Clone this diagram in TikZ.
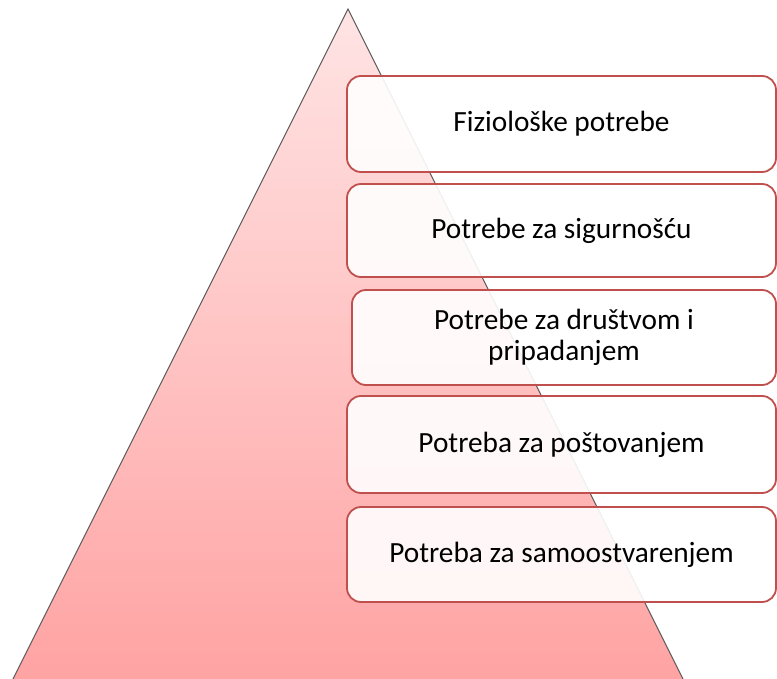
\documentclass[tikz,border=0pt]{standalone}
\usepackage{fontspec}
\setmainfont{Carlito}
\definecolor{boxred}{HTML}{C0504D}
\definecolor{pinktop}{HTML}{FFE4E4}
\definecolor{pinkbot}{HTML}{FFA3A3}
\definecolor{edgegray}{HTML}{5A5A5A}
\tikzset{
  levelbox/.style={draw=boxred, line width=1.8pt, rounded corners=14pt,
    fill=white, fill opacity=0.9, text opacity=1, align=center,
    inner sep=0pt, font=\fontsize{29.3}{31}\selectfont},
}
\begin{document}
\begin{tikzpicture}[x=1pt,y=-1pt]
\useasboundingbox (0,0) rectangle (777,679);
\begin{scope}
\clip (0,0) rectangle (777,679);
\shade[top color=pinktop, bottom color=pinkbot] (13,679) -- (348,9) -- (683,679) -- cycle;
\draw[edgegray, line width=1pt, line join=miter] (12,681) -- (348,9) -- (684,681);
% boxes
\node[levelbox, minimum width=429pt, minimum height=96pt] (b1) at (561.5,124) {Fiziološke potrebe};
\node[levelbox, minimum width=429pt, minimum height=93pt] (b2) at (561.5,230.5) {Potrebe za sigurnošću};
\node[levelbox, minimum width=424pt, minimum height=95pt] (b3) at (564,337.5) {Potrebe za društvom i\\pripadanjem};
\node[levelbox, minimum width=429pt, minimum height=97pt] (b4) at (561.5,444.5) {Potreba za poštovanjem};
\node[levelbox, minimum width=429pt, minimum height=95pt] (b5) at (561.5,554.5) {Potreba za samoostvarenjem};
\end{scope}
\end{tikzpicture}
\end{document}
